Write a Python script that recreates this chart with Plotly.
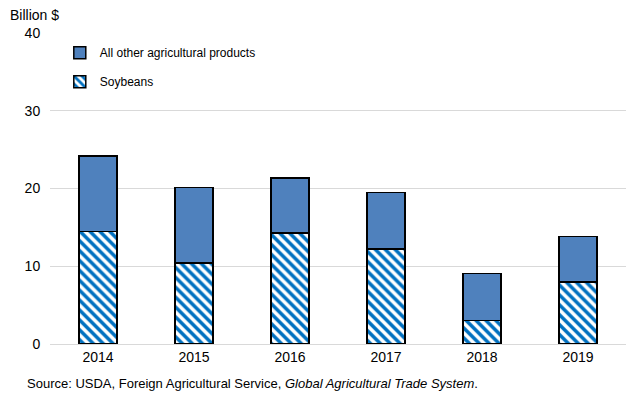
import plotly.graph_objects as go

years = ["2014", "2015", "2016", "2017", "2018", "2019"]
soybeans = [14.5, 10.45, 14.25, 12.2, 3.05, 7.95]
other = [9.7, 9.7, 7.1, 7.3, 6.05, 5.9]
y_ticks = [0, 10, 20, 30, 40]

fig = go.Figure()
fig.add_trace(go.Bar(
    x=years, y=soybeans, name="Soybeans", legendgroup="a", legendrank=2,
    marker=dict(color="white", line=dict(color="black", width=1.5),
                pattern=dict(shape="\\", fgcolor="#0070c0", bgcolor="white",
                             fgopacity=1, size=7, solidity=0.5, fillmode="replace")),
    width=0.4,
))
fig.add_trace(go.Bar(
    x=years, y=other, name="All other agricultural products", legendgroup="b", legendrank=1,
    marker=dict(color="#4f81bd", line=dict(color="black", width=1.5)),
    width=0.4,
))

fig.update_layout(
    width=628, height=389,
    barmode="stack",
    plot_bgcolor="white", paper_bgcolor="white",
    margin=dict(l=42, r=10, t=25, b=53),
    font=dict(family="Liberation Sans, Arial", size=14, color="black"),
    showlegend=True,
    legend=dict(x=0.017, y=0.983, xanchor="left", yanchor="top",
                traceorder="grouped", tracegroupgap=10,
                font=dict(size=12), bgcolor="rgba(0,0,0,0)",
                itemwidth=30),
    xaxis=dict(showline=True, linecolor="#d9d9d9", ticks="", tickfont=dict(size=14)),
    yaxis=dict(range=[0, 40], tickvals=y_ticks, showgrid=True, gridcolor="#d9d9d9",
               gridwidth=1, zeroline=False, ticks="outside", ticklen=6, tickcolor="white",
               tickfont=dict(size=14)),
    annotations=[
        dict(text="Billion $", x=0, y=1.0, xref="paper", yref="paper", xshift=-42,
             yshift=8, xanchor="left", yanchor="bottom", showarrow=False,
             font=dict(size=14)),
        dict(text="Source: USDA, Foreign Agricultural Service, <i>Global Agricultural Trade System</i>.",
             x=0, y=0, xref="paper", yref="paper", xshift=-25, yshift=-30,
             xanchor="left", yanchor="top", showarrow=False, font=dict(size=13)),
    ],
)

fig.write_html("out.html")
